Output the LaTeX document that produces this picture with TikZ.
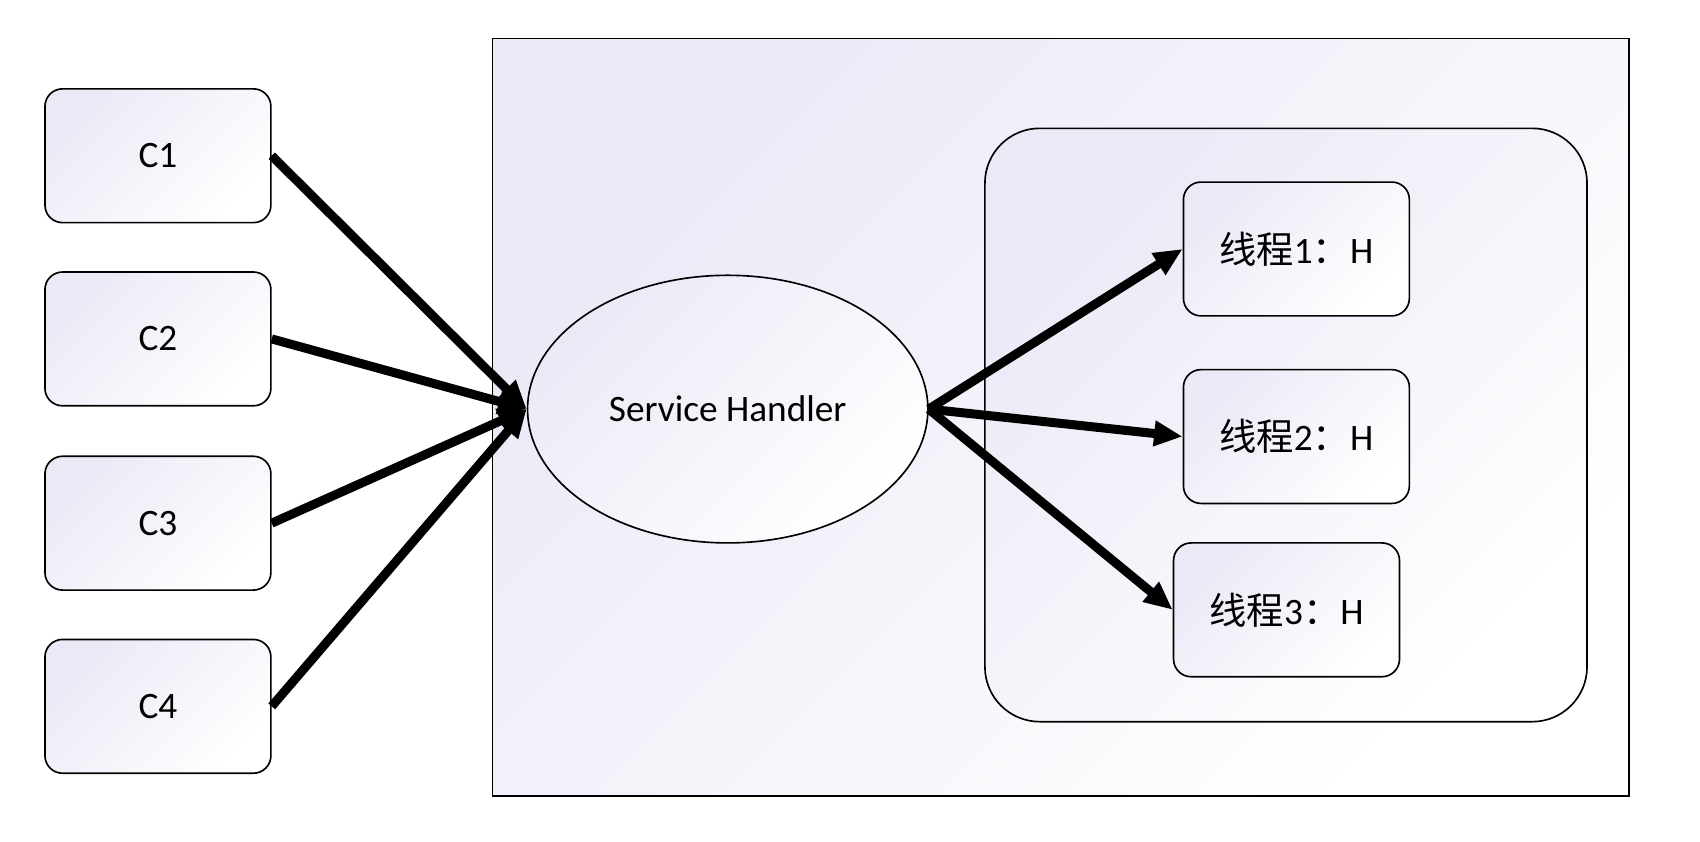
\documentclass[tikz,border=0pt]{standalone}
\usepackage{fontspec}
\setmainfont{Carlito}
\newfontfamily\cjk{Noto Sans CJK SC}
\usetikzlibrary{shapes.geometric,arrows.meta}
\definecolor{lav}{RGB}{233,234,246}
\definecolor{lavmid}{RGB}{248,248,252}
\tikzset{
  gfill/.style={top color=lav, middle color=lavmid, bottom color=white, shading angle=45},
  cbox/.style={draw, line width=0.75pt, rounded corners=8pt, gfill,
    minimum width=103pt, minimum height=61pt, inner sep=0pt,
    font=\fontsize{17}{20}\selectfont},
  outerbox/.style={draw, line width=0.8pt, gfill, minimum width=518pt,
    minimum height=345.5pt, inner sep=0pt},
  innerbox/.style={draw, line width=0.75pt, rounded corners=25pt, gfill,
    minimum width=274.5pt, minimum height=270.5pt, inner sep=0pt},
  handler/.style={draw, ellipse, line width=0.75pt, gfill, inner sep=0pt,
    minimum width=182.5pt, minimum height=122pt,
    font=\fontsize{17}{20}\selectfont},
  flow/.style={line width=4.1pt, -{Triangle[length=13pt,width=11pt]}}
}
\begin{document}
\begin{tikzpicture}[x=0.5pt,y=-0.5pt]
\useasboundingbox[fill=white] (0,0) rectangle (1550,767);
\node[outerbox] (sys) at (967,380.5) {};
\node[innerbox] (pool) at (1172.5,387.5) {};
\node[cbox] (c1) at (144,142) {C1};
\node[cbox] (c2) at (144,309) {C2};
\node[cbox] (c3) at (144,477) {C3};
\node[cbox] (c4) at (144,644) {C4};
\node[handler] (sh) at (663.5,373) {Service Handler};
\node[cbox] (t1) at (1182,227) {{\cjk 线程}1{\cjk ：}H};
\node[cbox] (t2) at (1182,398) {{\cjk 线程}2{\cjk ：}H};
\node[cbox] (t3) at (1173,556) {{\cjk 线程}3{\cjk ：}H};
\draw[flow] (c1.east) -- (sh.west);
\draw[flow] (c2.east) -- (sh.west);
\draw[flow] (c3.east) -- (sh.west);
\draw[flow] (c4.east) -- (sh.west);
\draw[flow] (sh.east) -- (t1.west);
\draw[flow] (sh.east) -- (t2.west);
\draw[flow] (sh.east) -- (t3.west);
\end{tikzpicture}
\end{document}
